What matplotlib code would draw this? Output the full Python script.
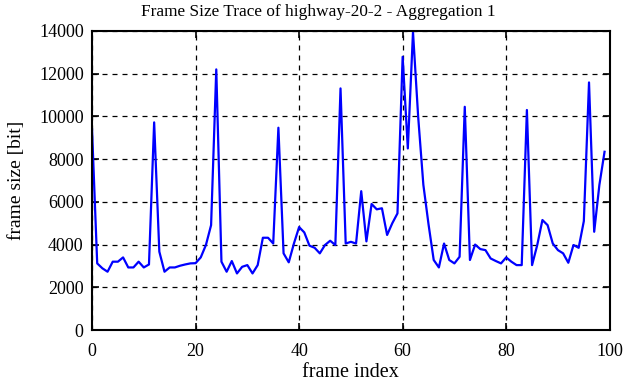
import numpy as np
import matplotlib
matplotlib.use('Agg')
import matplotlib.pyplot as plt

# Frame sizes (bits)
frame_index = list(range(100))
frame_size = [
    9400, 3120, 2890, 2730, 3200, 3200, 3400, 2930, 2930, 3200,
    2930, 3070, 9720, 3670, 2730, 2930, 2930, 3010, 3070, 3120,
    3130, 3400, 3980, 4910, 12200, 3200, 2730, 3230, 2650, 2960,
    3040, 2650, 3040, 4320, 4320, 4050, 9470, 3590, 3170, 4050,
    4820, 4570, 3950, 3850, 3590, 3980, 4180, 3980, 11310, 4050,
    4130, 4050, 6500, 4150, 5900, 5650, 5700, 4450, 5000, 5460,
    12790, 8500, 13950, 9980, 6800, 4950, 3280, 2930, 4050, 3280,
    3120, 3430, 10450, 3280, 4000, 3790, 3740, 3350, 3230, 3120,
    3400, 3200, 3040, 3040, 10300, 3040, 3980, 5150, 4910, 4050,
    3740, 3590, 3150, 3980, 3850, 5100, 11590, 4600, 6790, 8345,
]
x_ticks = [0, 20, 40, 60, 80, 100]
y_ticks = [0, 2000, 4000, 6000, 8000, 10000, 12000, 14000]

plt.rcParams['font.family'] = ['Liberation Serif', 'DejaVu Serif']

fig = plt.figure(figsize=(6.26, 3.82), dpi=100)
ax = fig.add_axes([0.147, 0.136, 0.827, 0.783])
ax.plot(frame_index, frame_size, color=(0, 0, 1), linewidth=1.6)

ax.set_xlim(0, 100)
ax.set_ylim(0, 14000)
ax.set_xticks(x_ticks)
ax.set_yticks(y_ticks)
ax.tick_params(direction='in', top=True, right=True, length=5, width=1.2, labelsize=13)
ax.tick_params(axis='x', pad=9)
ax.tick_params(axis='y', pad=6)
for s in ax.spines.values():
    s.set_linewidth(1.5)
ax.grid(True, color='black', linestyle=(0, (4, 4)), linewidth=0.9)

# title is centred on the figure, not on the axes
fig.text(0.508, 0.99, 'Frame Size Trace of highway-20-2 - Aggregation 1',
         fontsize=12.4, ha='center', va='top')
ax.set_xlabel('frame index', fontsize=14.5, labelpad=2.5)
ax.set_ylabel('frame size [bit]', fontsize=14, labelpad=10)

fig.savefig('out.png', dpi=100)
